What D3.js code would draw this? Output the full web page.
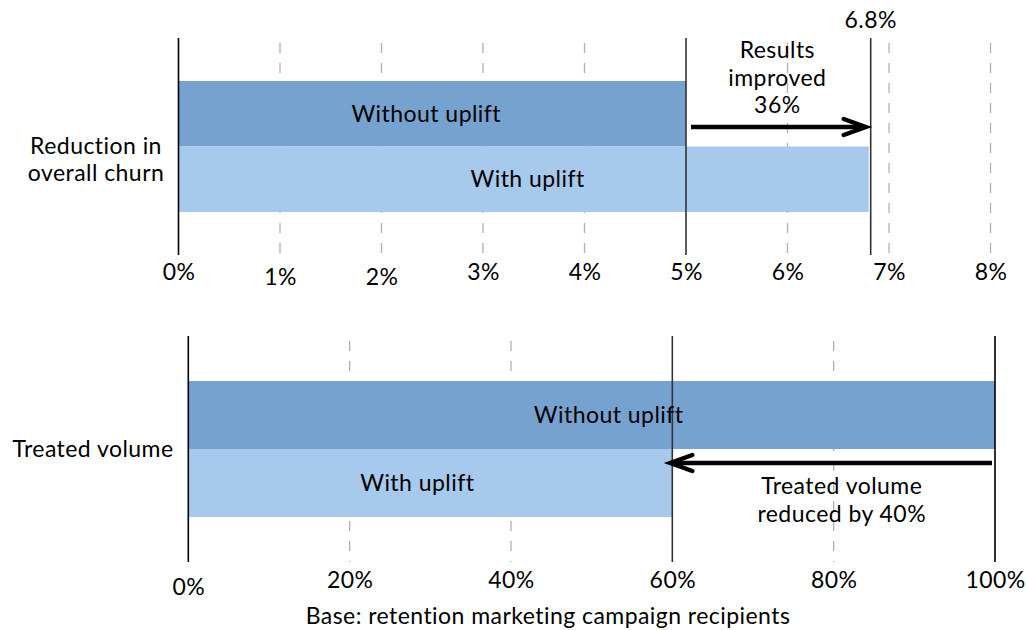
<!DOCTYPE html>
<html>
<head>
<meta charset="utf-8">
<script src="https://cdn.jsdelivr.net/npm/d3@7"></script>
<style>
  body { margin: 0; background: #fff; }
  svg text { font-family: Lato, "Open Sans", sans-serif; font-size: 23px; letter-spacing: 0.45px; fill: #000; }
</style>
</head>
<body>
<svg id="chart" width="1026" height="630"></svg>
<script>
// chart values
const barNames = ["Without uplift", "With uplift"];
const churnValues = [5, 6.8];
const churnTicks = [0, 1, 2, 3, 4, 5, 6, 7, 8];
const volumeValues = [100, 60];
const volumeTicks = [0, 20, 40, 60, 80, 100];
const colors = ["#76a2cf", "#a6c9ec"];

const svg = d3.select("#chart");
const lineGap = 27.5;

const drawPanel = (cfg) => {
    const x = d3.scaleLinear().domain(cfg.domain).range(cfg.xRange);
    const y = d3.scaleBand().domain(barNames).range(cfg.barRange);
    const g = svg.append("g");

    // dashed grid for ticks that are not a bar end
    const solid = [0].concat(cfg.values);
    g.selectAll("line.grid")
        .data(cfg.ticks.filter(t => !solid.includes(t)))
        .join("line")
        .attr("class", "grid")
        .attr("x1", d => x(d)).attr("x2", d => x(d))
        .attr("y1", cfg.lineTop + 5).attr("y2", cfg.lineBottom)
        .attr("stroke", "#b0b0b0").attr("stroke-width", 1.3)
        .attr("stroke-dasharray", "10,10");

    g.selectAll("rect")
        .data(cfg.values)
        .join("rect")
        .attr("x", x(0))
        .attr("y", (d, i) => y(barNames[i]))
        .attr("width", d => x(d) - x(0))
        .attr("height", y.bandwidth())
        .attr("fill", (d, i) => colors[i]);

    // solid lines at zero and at bar ends
    g.selectAll("line.solid")
        .data(solid)
        .join("line")
        .attr("class", "solid")
        .attr("x1", d => x(d) + (d === 6.8 ? 2 : 0)).attr("x2", d => x(d) + (d === 6.8 ? 2 : 0))
        .attr("y1", cfg.lineTop).attr("y2", cfg.lineBottom)
        .attr("stroke", (d, i) => i === 0 || d === 100 ? "#000" : "#333")
        .attr("stroke-width", 1.6);

    g.selectAll("text.bar")
        .data(cfg.values)
        .join("text")
        .attr("class", "bar")
        .attr("x", (d, i) => (x(0) + x(d)) / 2 + cfg.nudge[i])
        .attr("y", (d, i) => y(barNames[i]) + y.bandwidth() / 2)
        .attr("dy", "0.35em")
        .attr("text-anchor", "middle")
        .text((d, i) => barNames[i]);

    const axis = d3.axisBottom(x).tickValues(cfg.ticks).tickSize(0).tickPadding(0)
        .tickFormat(d => d + "%");
    const ax = g.append("g")
        .attr("transform", `translate(0,${cfg.labelY})`)
        .call(axis);
    ax.select(".domain").remove();
    ax.selectAll("text").attr("dy", "0.35em").attr("y", d => cfg.tickDy(d));
    ax.attr("font-size", null).attr("font-family", null);

    const lbl = g.append("text")
        .attr("x", cfg.titleX).attr("text-anchor", "middle");
    const off = (cfg.title.length - 1) / 2;
    cfg.title.forEach((t, i) => {
        lbl.append("tspan").attr("x", cfg.titleX)
            .attr("y", cfg.titleY + (i - off) * lineGap).attr("dy", "0.35em").text(t);
    });

    return { x, y, g };
};

const arrow = (g, x1, x2, yy) => {
    const dir = x2 > x1 ? 1 : -1;
    g.append("line")
        .attr("x1", x1).attr("x2", x2 - dir * 2).attr("y1", yy).attr("y2", yy)
        .attr("stroke", "#000").attr("stroke-width", 4.5);
    g.append("path")
        .attr("d", `M${x2 - dir * 22},${yy - 8} L${x2},${yy} L${x2 - dir * 22},${yy + 8}`)
        .attr("fill", "none").attr("stroke", "#000").attr("stroke-width", 4.5)
        .attr("stroke-linecap", "round").attr("stroke-linejoin", "miter");
};

// lines centred on cy
const multiline = (g, lines, cx, cy) => {
    const t = g.append("text").attr("text-anchor", "middle");
    const off = (lines.length - 1) / 2;
    lines.forEach((s, i) => {
        t.append("tspan").attr("x", cx).attr("y", cy + (i - off) * lineGap).attr("dy", "0.35em").text(s);
    });
};

// top panel: churn
const churnPanel = drawPanel({
    domain: [0, 8], xRange: [178.5, 990.5], barRange: [81, 212],
    values: churnValues, ticks: churnTicks, nudge: [-6, 4],
    lineTop: 38, lineBottom: 255, labelY: 272,
    tickDy: d => (d === 1 || d === 2) ? 5 : 0,
    title: ["Reduction in", "overall churn"], titleX: 96, titleY: 159.5
});
churnPanel.g.append("text")
    .attr("x", churnPanel.x(churnValues[1]) + 2).attr("y", 20).attr("dy", "0.35em")
    .attr("text-anchor", "middle").text(churnValues[1] + "%");
multiline(churnPanel.g, ["Results", "improved", "36%"], churnPanel.x(5.9), 77.5);
arrow(churnPanel.g, churnPanel.x(churnValues[0]) + 5, churnPanel.x(churnValues[1]) - 3, 127);

// bottom panel: treated volume
const volumePanel = drawPanel({
    domain: [0, 100], xRange: [188.3, 995], barRange: [381, 517],
    values: volumeValues, ticks: volumeTicks, nudge: [17, -13],
    lineTop: 336, lineBottom: 562, labelY: 580,
    tickDy: d => d === 0 ? 7 : 0,
    title: ["Treated volume"], titleX: 93, titleY: 449
});
arrow(volumePanel.g, volumePanel.x(volumeValues[0]) - 3, volumePanel.x(volumeValues[1]) - 2, 463);
multiline(volumePanel.g, ["Treated volume", "reduced by 40%"], volumePanel.x(81), 500);

svg.append("text")
    .attr("x", 548).attr("y", 615.5).attr("dy", "0.35em")
    .attr("text-anchor", "middle")
    .text("Base: retention marketing campaign recipients");
</script>
</body>
</html>
